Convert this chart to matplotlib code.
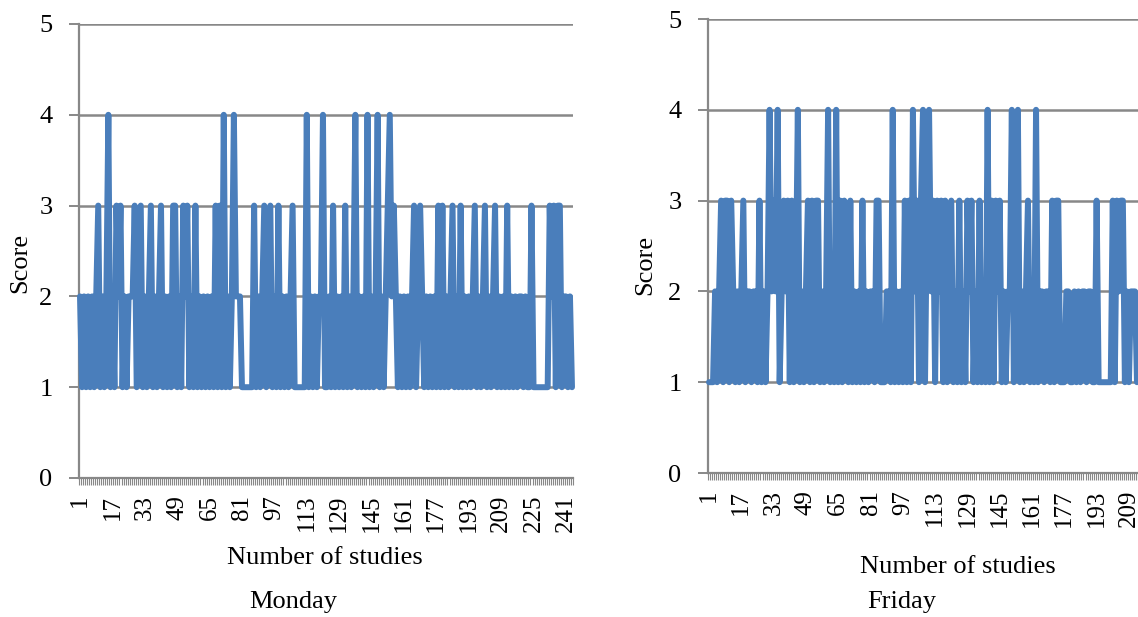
import matplotlib
matplotlib.use("Agg")
import matplotlib.pyplot as plt
import numpy as np

# ---------------- data ----------------
monday_scores = [
    2, 1, 2, 1, 2, 1, 2, 1, 2, 3,
    1, 2, 1, 2, 4, 1, 2, 1, 3, 2,
    3, 1, 2, 1, 2, 2, 2, 3, 1, 2,
    3, 1, 2, 1, 2, 3, 1, 2, 1, 2,
    3, 1, 2, 1, 2, 1, 3, 3, 1, 2,
    1, 3, 2, 3, 1, 2, 1, 3, 1, 2,
    1, 2, 1, 2, 1, 2, 1, 3, 1, 3,
    1, 4, 1, 2, 1, 2, 4, 2, 2, 2,
    1, 1, 1, 1, 1, 1, 3, 1, 2, 1,
    2, 3, 1, 2, 3, 1, 2, 1, 3, 1,
    2, 1, 2, 1, 2, 3, 1, 1, 1, 1,
    1, 1, 4, 1, 2, 1, 2, 1, 2, 2,
    4, 1, 1, 2, 1, 3, 1, 2, 1, 2,
    1, 3, 1, 2, 1, 2, 4, 1, 2, 1,
    2, 1, 4, 1, 2, 1, 2, 4, 1, 2,
    1, 2, 3, 4, 2, 3, 2, 1, 2, 1,
    2, 1, 2, 1, 2, 3, 1, 2, 3, 2,
    1, 2, 1, 2, 1, 2, 1, 3, 1, 3,
    1, 2, 1, 2, 3, 1, 2, 1, 3, 1,
    2, 1, 2, 1, 2, 3, 1, 2, 1, 2,
    3, 1, 2, 1, 2, 3, 1, 2, 1, 2,
    1, 3, 1, 2, 1, 2, 1, 2, 2, 1,
    2, 1, 1, 3, 1, 1, 1, 1, 1, 1,
    1, 1, 3, 2, 3, 1, 3, 3, 1, 2,
    2, 1, 2, 1,
]

friday_scores = [
    1, 1, 1, 2, 1, 2, 3, 1, 3, 3,
    1, 3, 2, 1, 2, 1, 2, 3, 1, 2,
    2, 1, 2, 2, 1, 3, 1, 2, 1, 2,
    4, 2, 3, 2, 4, 1, 2, 3, 2, 3,
    1, 3, 1, 2, 4, 1, 2, 1, 2, 3,
    1, 3, 1, 3, 3, 1, 2, 1, 2, 4,
    1, 2, 1, 4, 1, 3, 1, 3, 2, 1,
    3, 1, 2, 1, 2, 1, 3, 1, 2, 1,
    2, 2, 1, 3, 3, 1, 1, 1, 2, 2,
    1, 4, 1, 2, 1, 2, 1, 3, 1, 3,
    1, 4, 2, 3, 1, 3, 4, 1, 3, 4,
    2, 3, 1, 3, 2, 3, 1, 3, 1, 2,
    3, 1, 2, 1, 3, 1, 2, 1, 3, 2,
    3, 1, 2, 1, 3, 1, 2, 1, 4, 1,
    3, 1, 3, 2, 3, 1, 2, 1, 2, 2,
    4, 1, 2, 4, 1, 2, 1, 2, 3, 1,
    2, 1, 4, 1, 2, 2, 1, 2, 2, 1,
    3, 1, 3, 3, 1, 1, 1, 2, 2, 1,
    1, 2, 1, 2, 1, 2, 2, 1, 2, 2,
    1, 1, 3, 1, 1, 1, 1, 1, 1, 1,
    3, 1, 3, 2, 3, 3, 1, 2, 1, 2,
    2, 2, 1,
]

y_ticks = [0, 1, 2, 3, 4, 5]
label_step = 16
panel_titles = ["Monday", "Friday"]
x_label = "Number of studies"
y_label = "Score"

# ---------------- style ----------------
plt.rcParams['font.family'] = ['Liberation Serif', 'DejaVu Serif']
LINE_COLOR = "#4a7ebb"
GRID_COLOR = "#888888"
FS = 19
TICK_FS = 18

fig = plt.figure(figsize=(11.38, 6.17), dpi=100)

panels = [
    dict(data=monday_scores, rect=[79/1138, (617-478)/617, (573-79)/1138, 454/617],
         xlab=(0.498, -0.176), ylab=(-0.119, 0.474), title=(293/1138, 1-602/617)),
    dict(data=friday_scores, rect=[708/1138, (617-473)/617, (1138-708)/1138, 454/617],
         xlab=(0.581, -0.207), ylab=(-0.1465, 0.458), title=(902/1138, 1-602/617)),
]

for p, title in zip(panels, panel_titles):
    ax = fig.add_axes(p["rect"])
    data = p["data"]
    n = len(data)
    x = np.arange(1, n + 1)
    ax.plot(x, data, color=LINE_COLOR, lw=4.3, solid_joinstyle='round',
            solid_capstyle='round', zorder=3, clip_on=False)
    ax.set_xlim(0.5, n + 0.5)
    ax.set_ylim(0, 5)
    ax.set_yticks(y_ticks)
    ax.yaxis.grid(True, color=GRID_COLOR, lw=1.8)
    ax.set_axisbelow(True)
    for s in ["top", "right"]:
        ax.spines[s].set_visible(False)
    for s in ["left", "bottom"]:
        ax.spines[s].set_color(GRID_COLOR)
        ax.spines[s].set_linewidth(1.6)
    major = list(range(1, n + 1, label_step))
    ax.set_xticks(major)
    ax.set_xticklabels([str(m) for m in major], rotation=90, fontsize=TICK_FS)
    ax.set_xticks(np.arange(0.5, n + 1, 1.0), minor=True)
    ax.tick_params(axis='x', which='major', length=0, pad=12)
    ax.tick_params(axis='x', which='minor', length=5, width=0.8, color=GRID_COLOR,
                   direction='out')
    ax.tick_params(axis='y', which='major', length=7, width=1.4, color=GRID_COLOR,
                   labelsize=TICK_FS + 1, pad=12)
    ax.set_xlabel(x_label, fontsize=FS)
    ax.xaxis.set_label_coords(*p["xlab"])
    ax.xaxis.label.set_va('center')
    ax.set_ylabel(y_label, fontsize=FS)
    ax.yaxis.set_label_coords(*p["ylab"])
    ax.yaxis.label.set_va('center')
    fig.text(p["title"][0], p["title"][1], title, fontsize=FS,
             ha='center', va='center')

fig.savefig("out.png", dpi=100)
